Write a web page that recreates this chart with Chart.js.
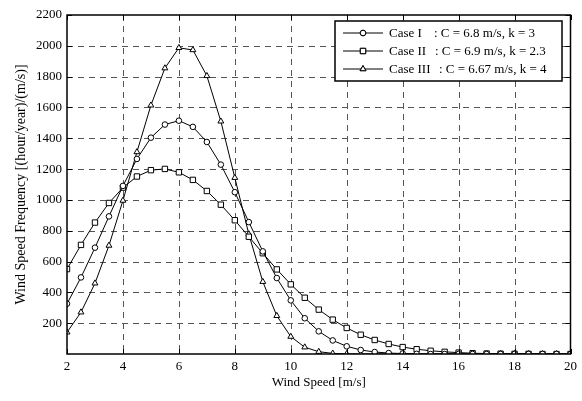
<!DOCTYPE html>
<html>
<head>
<meta charset="utf-8">
<script src="https://cdn.jsdelivr.net/npm/chart.js@4.4.0/dist/chart.umd.min.js"></script>
<style>
    body { margin: 0; background: #fff; }
</style>
</head>
<body>
<canvas id="windChart" width="582" height="401"></canvas>
<script>
// wind speed [m/s]
const windSpeed = [2, 2.5, 3, 3.5, 4, 4.5, 5, 5.5, 6, 6.5, 7, 7.5, 8, 8.5, 9, 9.5, 10, 10.5, 11, 11.5,
    12, 12.5, 13, 13.5, 14, 14.5, 15, 15.5, 16, 16.5, 17, 17.5, 18, 18.5, 19, 19.5, 20];

// frequency [(hour/year)/(m/s)]
const caseI = [326, 497, 690, 893, 1091, 1266, 1404, 1489, 1514, 1474, 1376, 1229, 1050, 856, 666, 493,
    348, 232, 147, 88, 50, 26, 13, 6, 3, 1, 0, 0, 0, 0, 0, 0, 0, 0, 0, 0, 0];
const caseII = [551, 708, 853, 980, 1080, 1152, 1193, 1201, 1179, 1130, 1058, 969, 868, 761, 654, 549,
    452, 365, 288, 223, 169, 125, 91, 65, 45, 31, 21, 14, 9, 5, 3, 2, 1, 1, 0, 0, 0];
const caseIII = [141, 271, 459, 704, 996, 1311, 1614, 1855, 1987, 1973, 1805, 1510, 1144, 778, 469, 248,
    113, 44, 15, 4, 1, 0, 0, 0, 0, 0, 0, 0, 0, 0, 0, 0, 0, 0, 0, 0, 0];

const caseNames = ['Case I', 'Case II', 'Case III'];
const caseParams = [': C = 6.8 m/s, k = 3', ': C = 6.9 m/s, k = 2.3', ': C = 6.67 m/s, k = 4'];

const xTicks = [2, 4, 6, 8, 10, 12, 14, 16, 18, 20];
const yTicks = [200, 400, 600, 800, 1000, 1200, 1400, 1600, 1800, 2000, 2200];

const FONT = 'Liberation Serif';

function toPoints(values) {
    return windSpeed.map((v, i) => ({ x: v, y: values[i] }));
}

function makeSet(label, values, style, radius) {
    return {
        label: label,
        data: toPoints(values),
        borderColor: '#000',
        borderWidth: 1,
        pointStyle: style,
        pointRadius: radius,
        pointBorderWidth: 1,
        pointBorderColor: '#000',
        pointBackgroundColor: '#fff',
        tension: 0,
        fill: false
    };
}

const datasets = [
    makeSet(caseNames[0], caseI, 'circle', 2.8),
    makeSet(caseNames[1], caseII, 'rect', 3.8),
    makeSet(caseNames[2], caseIII, 'triangle', 3.4)
];

// dashed grid, drawn under the lines
const gridPlugin = {
    id: 'dashGrid',
    beforeDatasetsDraw(chart) {
        const ctx = chart.ctx;
        const a = chart.chartArea;
        const xs = chart.scales.x, ys = chart.scales.y;
        ctx.save();
        ctx.strokeStyle = '#555';
        ctx.lineWidth = 1;
        ctx.setLineDash([6, 5]);
        xTicks.forEach(v => {
            if (v === xs.min || v === xs.max) return;
            const px = Math.round(xs.getPixelForValue(v)) + 0.5;
            ctx.beginPath();
            ctx.moveTo(px, a.top);
            ctx.lineTo(px, a.bottom);
            ctx.stroke();
        });
        yTicks.forEach(v => {
            if (v === ys.max) return;
            const py = Math.round(ys.getPixelForValue(v)) + 0.5;
            ctx.beginPath();
            ctx.moveTo(a.left, py);
            ctx.lineTo(a.right, py);
            ctx.stroke();
        });
        ctx.restore();
    }
};

// solid frame, inward ticks and boxed legend
const framePlugin = {
    id: 'frame',
    afterDraw(chart) {
        const ctx = chart.ctx;
        const a = chart.chartArea;
        const xs = chart.scales.x, ys = chart.scales.y;
        ctx.save();
        ctx.strokeStyle = '#000';
        ctx.setLineDash([]);
        ctx.lineWidth = 1;
        ctx.beginPath();
        xTicks.forEach(v => {
            const px = Math.round(xs.getPixelForValue(v)) + 0.5;
            ctx.moveTo(px, a.bottom); ctx.lineTo(px, a.bottom - 5);
            ctx.moveTo(px, a.top); ctx.lineTo(px, a.top + 5);
        });
        yTicks.forEach(v => {
            const py = Math.round(ys.getPixelForValue(v)) + 0.5;
            ctx.moveTo(a.left, py); ctx.lineTo(a.left + 5, py);
            ctx.moveTo(a.right, py); ctx.lineTo(a.right - 5, py);
        });
        ctx.stroke();

        ctx.lineWidth = 1.5;
        ctx.strokeRect(a.left, a.top, a.right - a.left, a.bottom - a.top);

        // legend box
        const bx = 335, by = 21, bw = 227, bh = 60;
        ctx.fillStyle = '#fff';
        ctx.fillRect(bx, by, bw, bh);
        ctx.lineWidth = 1.5;
        ctx.strokeRect(bx, by, bw, bh);

        const rows = [33, 51, 69];
        const colonX = [434, 435, 439];
        ctx.font = '13px "' + FONT + '"';
        ctx.textBaseline = 'middle';
        datasets.forEach((ds, i) => {
            const y = rows[i];
            ctx.strokeStyle = '#000';
            ctx.lineWidth = 1;
            ctx.beginPath();
            ctx.moveTo(343, y);
            ctx.lineTo(383, y);
            ctx.stroke();
            ctx.fillStyle = '#fff';
            Chart.helpers.drawPoint(ctx, {
                pointStyle: ds.pointStyle,
                radius: ds.pointRadius,
                borderWidth: 1,
                rotation: 0
            }, 363, y);
            ctx.fill();
            ctx.stroke();
            ctx.fillStyle = '#000';
            ctx.textAlign = 'left';
            ctx.fillText(caseNames[i], 389, y + 1);
            ctx.fillText(caseParams[i], colonX[i], y + 1);
        });
        ctx.restore();
    }
};

new Chart(document.getElementById('windChart'), {
    type: 'line',
    data: { datasets: datasets },
    options: {
        responsive: false,
        animation: false,
        layout: { padding: { left: 0, right: 9, top: 15, bottom: 0 } },
        plugins: {
            legend: { display: false },
            tooltip: { enabled: false }
        },
        scales: {
            x: {
                type: 'linear',
                min: 2,
                max: 20,
                afterFit(scale) { scale.height = 47; },
                afterBuildTicks(scale) { scale.ticks = xTicks.map(v => ({ value: v })); },
                grid: { display: false, drawTicks: false },
                border: { display: false },
                ticks: {
                    padding: 5,
                    color: '#000',
                    maxRotation: 0,
                    font: { family: FONT, size: 13 },
                    callback: (v) => String(v)
                },
                title: {
                    display: true,
                    text: 'Wind Speed [m/s]',
                    color: '#000',
                    font: { family: FONT, size: 13 },
                    padding: { top: 0, bottom: 11 }
                }
            },
            y: {
                min: 0,
                max: 2200,
                afterFit(scale) { scale.width = 67; },
                afterBuildTicks(scale) { scale.ticks = yTicks.map(v => ({ value: v })); },
                grid: { display: false, drawTicks: false },
                border: { display: false },
                ticks: {
                    padding: 5,
                    color: '#000',
                    font: { family: FONT, size: 13 },
                    callback: (v) => String(v)
                },
                title: {
                    display: true,
                    text: 'Wind Speed Frequency [(hour/year)/(m/s)]',
                    color: '#000',
                    font: { family: FONT, size: 14 },
                    padding: { top: 13, bottom: 0 }
                }
            }
        }
    },
    plugins: [gridPlugin, framePlugin]
});
</script>
</body>
</html>
